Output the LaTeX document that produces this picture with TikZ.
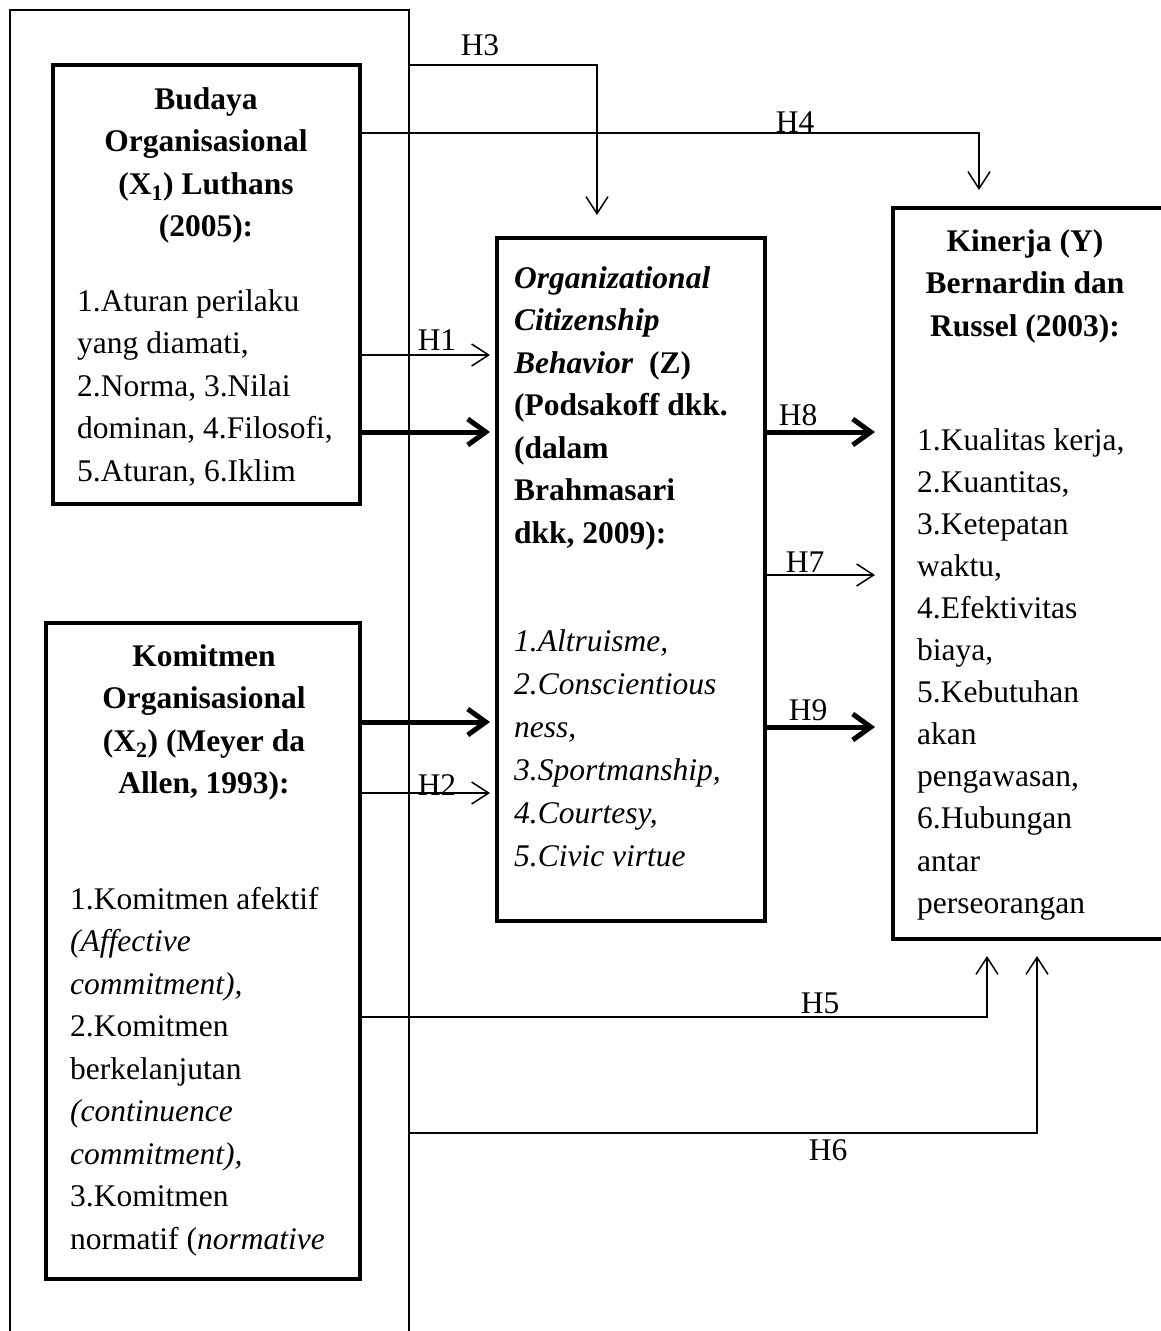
\documentclass[tikz,border=0pt]{standalone}
\usepackage{fontspec}
\setmainfont{Liberation Serif}
\usetikzlibrary{arrows.meta,positioning,calc}
\tikzset{
  every node/.style={font=\fontsize{31.5}{42.5}\selectfont},
  box/.style={draw=black,line width=4pt,anchor=north west,inner sep=0pt,outer sep=0pt},
  ttl/.style={anchor=north,align=center,inner sep=0pt,font=\fontsize{31.5}{42.5}\selectfont\bfseries},
  lst/.style={anchor=north west,align=left,inner sep=0pt},
  frm/.style={line width=1.5pt},
  lnk/.style={-{Straight Barb[length=17pt,width=22pt]},line width=1.5pt},
  blnk/.style={-{Straight Barb[length=18pt,width=26pt]},line width=5pt},
  hlab/.style={inner sep=0pt},
}

\begin{document}
\begin{tikzpicture}[x=1pt,y=1pt]
  \useasboundingbox (0,0) rectangle (1160,-1331);

  % open frame round the two independent variables
  \draw[frm] (10,-1345) |- (409,-10) -- (409,-1345);

  % boxes
  \node[box,minimum width=307pt,minimum height=439pt] (bud) at (53,-65) {};
  \node[box,minimum width=314pt,minimum height=656pt] (kom) at (46,-623) {};
  \node[box,minimum width=268pt,minimum height=683pt] (ocb) at (497,-238) {};
  \node[box,minimum width=272pt,minimum height=731pt] (kin) at (893,-208) {};

  % box texts
  \node[ttl] (budt) at (206,-87) {Budaya\\Organisasional\\(X\textsubscript{1}) Luthans\\(2005):};
  \node[lst] (budl) at (77,-289) {1.Aturan perilaku\\yang diamati,\\2.Norma, 3.Nilai\\dominan, 4.Filosofi,\\5.Aturan, 6.Iklim};

  \node[ttl] (komt) at (204,-644) {Komitmen\\Organisasional\\(X\textsubscript{2}) (Meyer da\\Allen, 1993):};
  \node[lst] (koml) at (70,-887) {1.Komitmen afektif\\\textit{(Affective}\\\textit{commitment),}\\2.Komitmen\\berkelanjutan\\\textit{(continuence}\\\textit{commitment),}\\3.Komitmen\\normatif (\textit{normative}};

  \node[ttl,anchor=north west,align=left] (ocbt) at (514,-266) {\textit{Organizational}\\\textit{Citizenship}\\\textit{Behavior}\ \ (Z)\\(Podsakoff dkk.\\(dalam\\Brahmasari\\dkk, 2009):};
  \node[lst,font=\fontsize{31.5}{43}\selectfont\itshape] (ocbl) at (514,-629) {1.Altruisme,\\2.Conscientious\\ness,\\3.Sportmanship,\\4.Courtesy,\\5.Civic virtue};

  \node[ttl] (kint) at (1025,-229) {Kinerja (Y)\\Bernardin dan\\Russel (2003):};
  \node[lst,font=\fontsize{31.5}{42.1}\selectfont] (kinl) at (917,-428) {1.Kualitas kerja,\\2.Kuantitas,\\3.Ketepatan\\waktu,\\4.Efektivitas\\biaya,\\5.Kebutuhan\\akan\\pengawasan,\\6.Hubungan\\antar\\perseorangan};

  % rows of the connectors
  \coordinate (f3) at (409,-65);
  \coordinate (f6) at (409,-1133);
  \coordinate (r4) at (0,-133);
  \coordinate (r1) at (0,-355);
  \coordinate (rb) at (0,-432);
  \coordinate (rk) at (0,-722);
  \coordinate (r2) at (0,-793);
  \coordinate (r7) at (0,-575);
  \coordinate (r9) at (0,-727);
  \coordinate (r5) at (0,-1017);

  % into the mediator
  \draw[lnk,shorten >=7pt] (bud.east |- r1) -- (ocb.west |- r1);
  \draw[blnk,shorten >=7pt] (bud.east |- rb) -- (ocb.west |- rb);
  \draw[blnk,shorten >=7pt] (kom.east |- rk) -- (ocb.west |- rk);
  \draw[lnk,shorten >=7pt] (kom.east |- r2) -- (ocb.west |- r2);
  \draw[lnk] (f3) -| ([xshift=-34pt,yshift=23pt]ocb.north);

  % into the outcome
  \draw[blnk,shorten >=18pt] (ocb.east |- rb) -- (kin.west |- rb);
  \draw[lnk,shorten >=18pt] (ocb.east |- r7) -- (kin.west |- r7);
  \draw[blnk,shorten >=18pt] (ocb.east |- r9) -- (kin.west |- r9);
  \draw[lnk] (bud.east |- r4) -| ([xshift=-50pt,yshift=18pt]kin.north);
  \draw[lnk] (kom.east |- r5) -| ([xshift=-42pt,yshift=-17pt]kin.south);
  \draw[lnk] (f6) -| ([xshift=8pt,yshift=-17pt]kin.south);

  % hypothesis labels
  \node[hlab] at (480,-45) {H3};
  \node[hlab] at (795,-122) {H4};
  \node[hlab] at (437,-340) {H1};
  \node[hlab] at (437,-785) {H2};
  \node[hlab] at (798,-415) {H8};
  \node[hlab] at (805,-562) {H7};
  \node[hlab] at (808,-710) {H9};
  \node[hlab] at (820,-1003) {H5};
  \node[hlab] at (828,-1150) {H6};
\end{tikzpicture}
\end{document}
